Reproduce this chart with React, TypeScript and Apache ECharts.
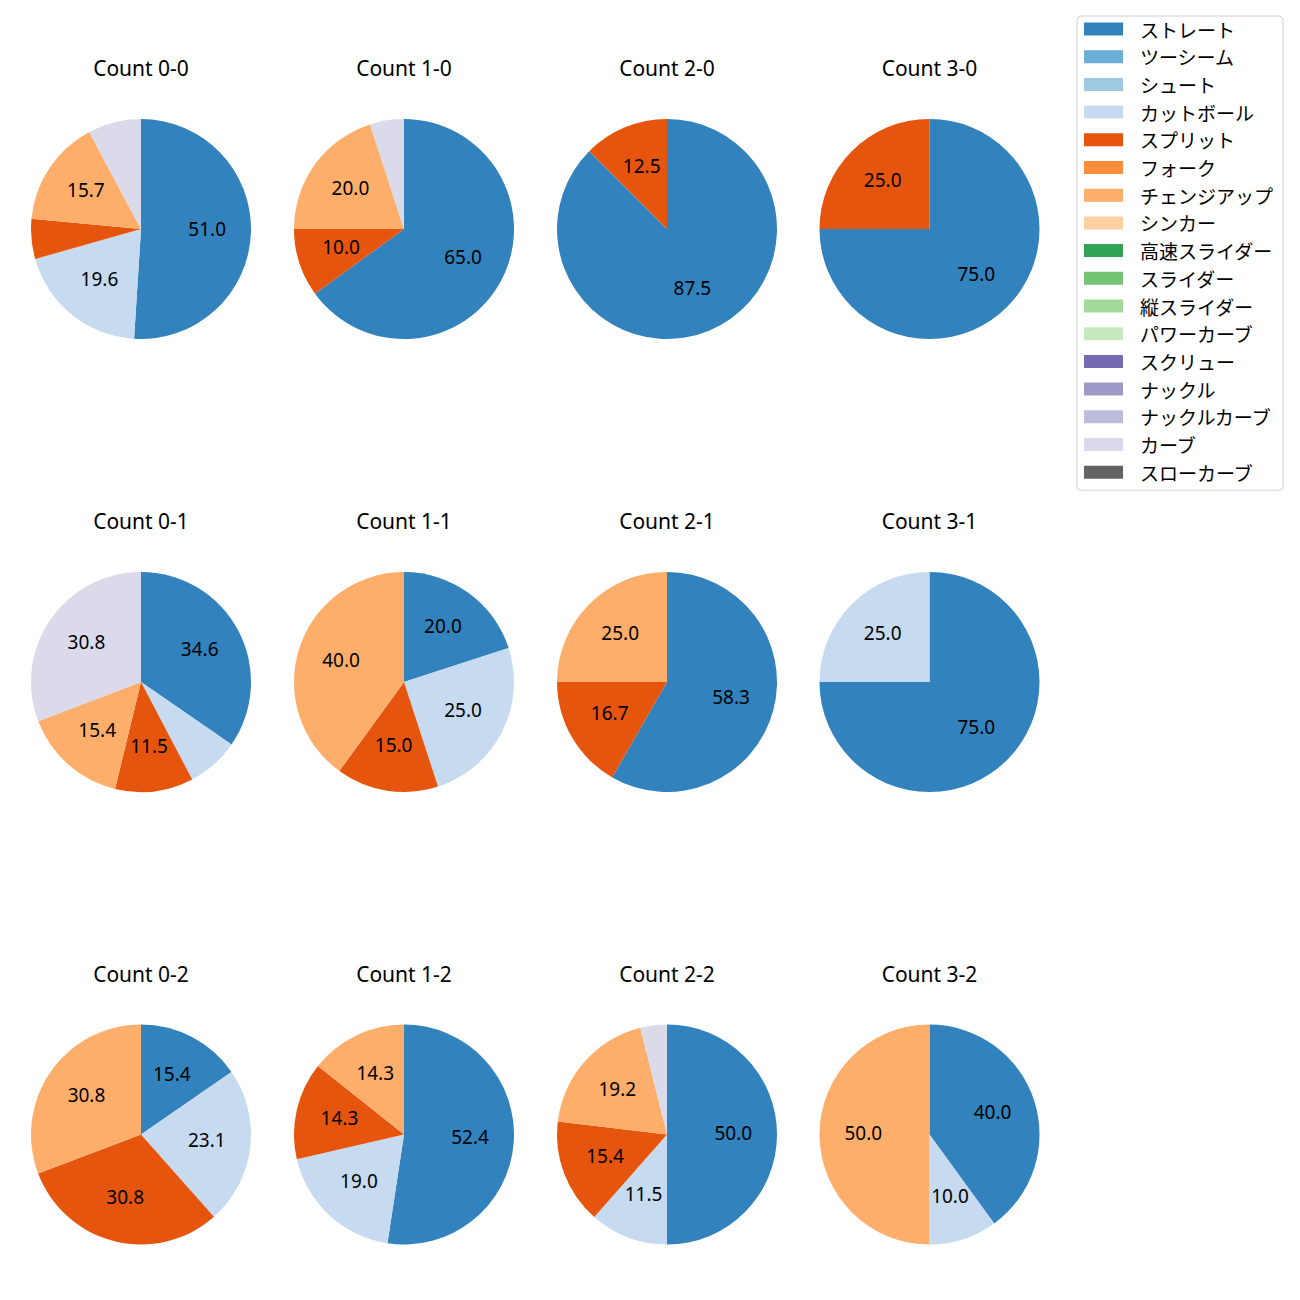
import React, { useEffect, useRef } from "react";
import * as echarts from "echarts";

const CATEGORIES = [
  "ストレート", "ツーシーム", "シュート", "カットボール", "スプリット", "フォーク",
  "チェンジアップ", "シンカー", "高速スライダー", "スライダー", "縦スライダー",
  "パワーカーブ", "スクリュー", "ナックル", "ナックルカーブ", "カーブ", "スローカーブ",
];
const COLORS = [
  "#3182bd", "#6baed6", "#9ecae1", "#c6dbef", "#e6550d", "#fd8d3c", "#fdae6b",
  "#fdd0a2", "#31a354", "#74c476", "#a1d99b", "#c7e9c0", "#756bb1", "#9e9ac8",
  "#bcbddc", "#dadaeb", "#636363",
];

// percentages per pitch type (same order as CATEGORIES)
const count00 = [51.0, 0, 0, 19.6, 5.9, 0, 15.7, 0, 0, 0, 0, 0, 0, 0, 0, 7.8, 0];
const count10 = [65.0, 0, 0, 0, 10.0, 0, 20.0, 0, 0, 0, 0, 0, 0, 0, 0, 5.0, 0];
const count20 = [87.5, 0, 0, 0, 12.5, 0, 0, 0, 0, 0, 0, 0, 0, 0, 0, 0, 0];
const count30 = [75.0, 0, 0, 0, 25.0, 0, 0, 0, 0, 0, 0, 0, 0, 0, 0, 0, 0];
const count01 = [34.6, 0, 0, 7.7, 11.5, 0, 15.4, 0, 0, 0, 0, 0, 0, 0, 0, 30.8, 0];
const count11 = [20.0, 0, 0, 25.0, 15.0, 0, 40.0, 0, 0, 0, 0, 0, 0, 0, 0, 0, 0];
const count21 = [58.3, 0, 0, 0, 16.7, 0, 25.0, 0, 0, 0, 0, 0, 0, 0, 0, 0, 0];
const count31 = [75.0, 0, 0, 25.0, 0, 0, 0, 0, 0, 0, 0, 0, 0, 0, 0, 0, 0];
const count02 = [15.4, 0, 0, 23.1, 30.8, 0, 30.8, 0, 0, 0, 0, 0, 0, 0, 0, 0, 0];
const count12 = [52.4, 0, 0, 19.0, 14.3, 0, 14.3, 0, 0, 0, 0, 0, 0, 0, 0, 0, 0];
const count22 = [50.0, 0, 0, 11.5, 15.4, 0, 19.2, 0, 0, 0, 0, 0, 0, 0, 0, 3.9, 0];
const count32 = [40.0, 0, 0, 10.0, 0, 0, 50.0, 0, 0, 0, 0, 0, 0, 0, 0, 0, 0];

const PANELS = [
  { title: "Count 0-0", values: count00 },
  { title: "Count 1-0", values: count10 },
  { title: "Count 2-0", values: count20 },
  { title: "Count 3-0", values: count30 },
  { title: "Count 0-1", values: count01 },
  { title: "Count 1-1", values: count11 },
  { title: "Count 2-1", values: count21 },
  { title: "Count 3-1", values: count31 },
  { title: "Count 0-2", values: count02 },
  { title: "Count 1-2", values: count12 },
  { title: "Count 2-2", values: count22 },
  { title: "Count 3-2", values: count32 },
];

const COL_X = [141, 404, 667, 929.5];
const ROW_Y = [229, 682, 1134.5];
const RADIUS = 110;
const FONT = "'Noto Sans CJK JP', 'Noto Sans', sans-serif";
const LATIN = "'Noto Sans', 'Noto Sans CJK JP', sans-serif";

export default function App() {
  const ref = useRef<HTMLDivElement>(null);
  useEffect(() => {
    document.body.style.margin = "0";
    if (!ref.current) return;
    const chart = echarts.init(ref.current, null, { renderer: "svg" });
    const titles: any[] = [];
    const series: any[] = [];
    PANELS.forEach((p, i) => {
      const cx = COL_X[i % 4];
      const cy = ROW_Y[Math.floor(i / 4)];
      titles.push({
        text: p.title,
        left: cx,
        top: cy - 171.5,
        textAlign: "center",
        padding: 0,
        textStyle: { fontFamily: LATIN, fontSize: 21, fontWeight: "normal", color: "#000" },
      });
      const data = CATEGORIES.map((name, k) => ({
        name,
        value: p.values[k],
        itemStyle: { color: COLORS[k] },
      }));
      series.push({
        type: "pie",
        center: [cx, cy],
        radius: [0, RADIUS],
        startAngle: 90,
        clockwise: true,
        data,
        label: { show: false },
        labelLine: { show: false },
        itemStyle: { borderWidth: 0 },
        emphasis: { disabled: true },
        silent: true,
      });
      series.push({
        type: "pie",
        center: [cx, cy],
        radius: [0, RADIUS * 1.15],
        startAngle: 90,
        clockwise: true,
        data: CATEGORIES.map((name, k) => ({ name, value: p.values[k] })),
        itemStyle: { color: "rgba(0,0,0,0)", borderWidth: 0 },
        label: {
          show: true,
          position: "inside",
          color: "#000",
          fontFamily: LATIN,
          fontSize: 19,
          offset: [0, -2],
          formatter: (prm: any) => (prm.value >= 10 ? Number(prm.value).toFixed(1) : ""),
        },
        labelLine: { show: false },
        emphasis: { disabled: true },
        silent: true,
      });
    });
    chart.setOption({
      animation: false,
      backgroundColor: "#fff",
      title: titles,
      legend: {
        orient: "vertical",
        left: 1077,
        top: 16,
        padding: [3, 10, 8, 7],
        itemWidth: 39,
        itemHeight: 13,
        itemGap: 7.7,
        borderColor: "#d0d0d0",
        borderWidth: 1,
        borderRadius: 4,
        selectedMode: false,
        icon: "rect",
        textStyle: { fontFamily: FONT, fontSize: 19, lineHeight: 20, color: "#000", padding: [0, 0, 0, 12] },
        data: CATEGORIES.map((name, k) => ({ name, itemStyle: { color: COLORS[k] } })),
      },
      series,
    });
    return () => chart.dispose();
  }, []);
  return <div ref={ref} style={{ width: 1300, height: 1300 }} />;
}
